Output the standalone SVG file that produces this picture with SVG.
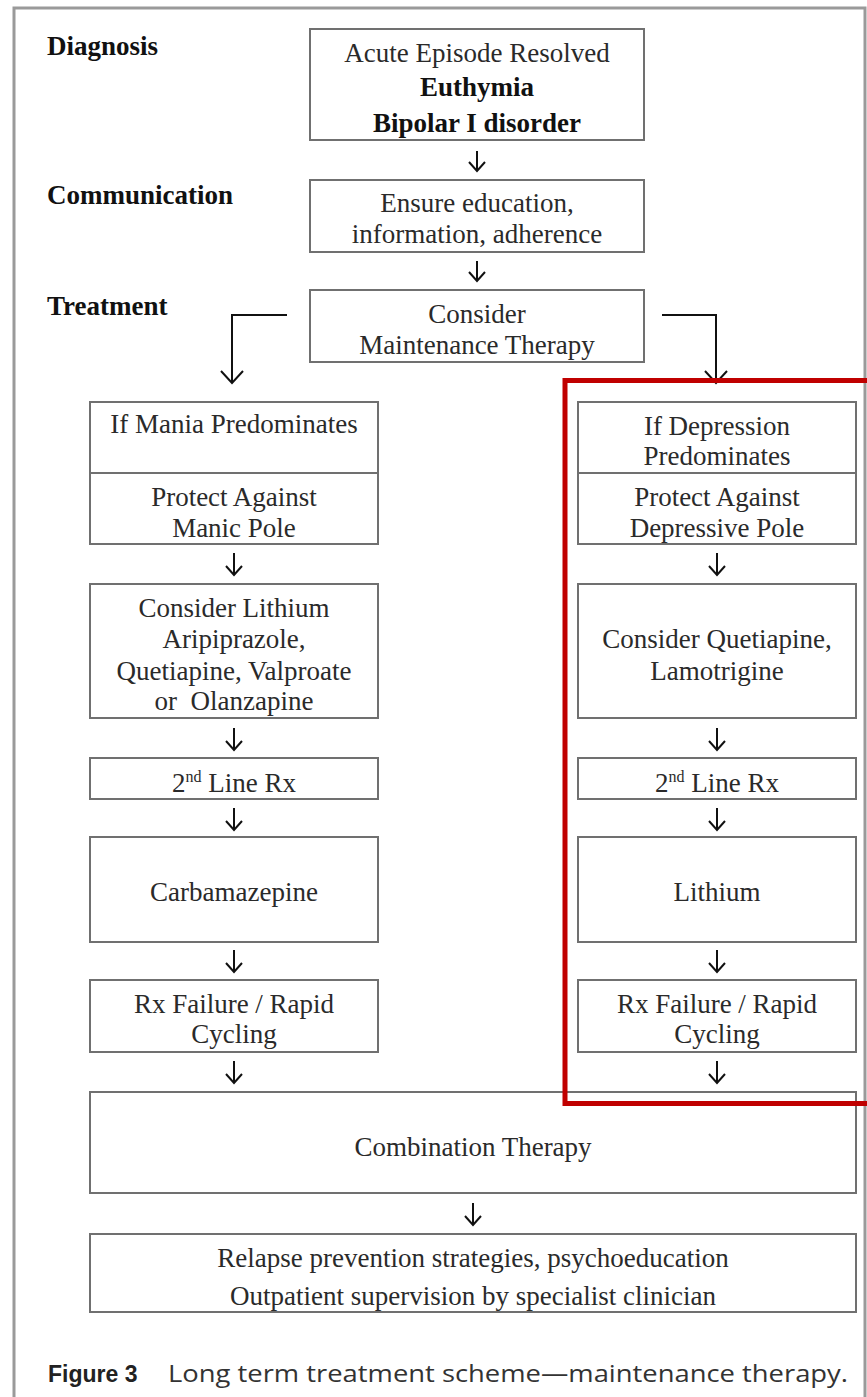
<svg xmlns="http://www.w3.org/2000/svg" width="867" height="1397" viewBox="0 0 867 1397">
<style>
.frame{fill:none;stroke:#9a9a9a;stroke-width:3}
.box{fill:#fff;stroke:#707070;stroke-width:2}
.t{font-family:"Liberation Serif","Times New Roman",serif;font-size:27px;fill:#2a2a2a;text-anchor:middle}
.b{font-weight:bold;fill:#111}
.lab{font-family:"Liberation Serif","Times New Roman",serif;font-size:27px;font-weight:bold;fill:#111}
.sup{font-size:16px}
.conn{fill:none;stroke:#111;stroke-width:2}
.red{fill:none;stroke:#c00000;stroke-width:5}
.cap{font-family:"Open Sans","Liberation Sans",sans-serif;font-size:23px;fill:#333}
</style>
<defs>
<marker id="ah" viewBox="-12 -10 14 20" markerWidth="14" markerHeight="20" refX="0" refY="0" orient="auto" markerUnits="userSpaceOnUse">
<path d="M-9,-8 L0,0 L-9,8" fill="none" stroke="#111" stroke-width="2"/>
</marker>
<marker id="ahL" viewBox="-15 -13 17 26" markerWidth="17" markerHeight="26" refX="0" refY="0" orient="auto" markerUnits="userSpaceOnUse">
<path d="M-12,-11 L0,0 L-12,11" fill="none" stroke="#111" stroke-width="2"/>
</marker>
</defs>
<rect width="867" height="1397" fill="#fff"/>
<path class="frame" d="M14,1400 V8 H865 V1400"/>

<g id="labels">
<text class="lab" x="47" y="55">Diagnosis</text>
<text class="lab" x="47" y="204">Communication</text>
<text class="lab" x="47" y="315">Treatment</text>
</g>

<g id="n-diagnosis">
<rect class="box" x="310" y="29" width="334" height="111"/>
<text class="t" x="477" y="62">Acute Episode Resolved</text>
<text class="t b" x="477" y="96">Euthymia</text>
<text class="t b" x="477" y="132">Bipolar I disorder</text>
</g>
<g id="n-communication">
<rect class="box" x="310" y="180" width="334" height="72"/>
<text class="t" x="477" y="212">Ensure education,</text>
<text class="t" x="477" y="243">information, adherence</text>
</g>
<g id="n-maintenance">
<rect class="box" x="310" y="290" width="334" height="72"/>
<text class="t" x="477" y="323">Consider</text>
<text class="t" x="477" y="354">Maintenance Therapy</text>
</g>

<g id="n-mania">
<rect class="box" x="90" y="402" width="288" height="71"/>
<text class="t" x="234" y="433">If Mania Predominates</text>
</g>
<g id="n-manic-pole">
<rect class="box" x="90" y="473" width="288" height="71"/>
<text class="t" x="234" y="506">Protect Against</text>
<text class="t" x="234" y="537">Manic Pole</text>
</g>
<g id="n-lithium-options">
<rect class="box" x="90" y="584" width="288" height="134"/>
<text class="t" x="234" y="617">Consider Lithium</text>
<text class="t" x="234" y="648">Aripiprazole,</text>
<text class="t" x="234" y="680">Quetiapine, Valproate</text>
<text class="t" x="234" y="710" xml:space="preserve">or  Olanzapine</text>
</g>
<g id="n-2nd-left">
<rect class="box" x="90" y="758" width="288" height="41"/>
<text class="t" x="234" y="792">2<tspan class="sup" dy="-10">nd</tspan><tspan dy="10"> Line Rx</tspan></text>
</g>
<g id="n-carbamazepine">
<rect class="box" x="90" y="837" width="288" height="105"/>
<text class="t" x="234" y="901">Carbamazepine</text>
</g>
<g id="n-fail-left">
<rect class="box" x="90" y="980" width="288" height="72"/>
<text class="t" x="234" y="1013">Rx Failure / Rapid</text>
<text class="t" x="234" y="1043">Cycling</text>
</g>

<g id="n-depression">
<rect class="box" x="578" y="402" width="278" height="71"/>
<text class="t" x="717" y="435">If Depression</text>
<text class="t" x="717" y="465">Predominates</text>
</g>
<g id="n-depressive-pole">
<rect class="box" x="578" y="473" width="278" height="71"/>
<text class="t" x="717" y="506">Protect Against</text>
<text class="t" x="717" y="537">Depressive Pole</text>
</g>
<g id="n-quetiapine">
<rect class="box" x="578" y="584" width="278" height="134"/>
<text class="t" x="717" y="648">Consider Quetiapine,</text>
<text class="t" x="717" y="680">Lamotrigine</text>
</g>
<g id="n-2nd-right">
<rect class="box" x="578" y="758" width="278" height="41"/>
<text class="t" x="717" y="792">2<tspan class="sup" dy="-10">nd</tspan><tspan dy="10"> Line Rx</tspan></text>
</g>
<g id="n-lithium">
<rect class="box" x="578" y="837" width="278" height="105"/>
<text class="t" x="717" y="901">Lithium</text>
</g>
<g id="n-fail-right">
<rect class="box" x="578" y="980" width="278" height="72"/>
<text class="t" x="717" y="1013">Rx Failure / Rapid</text>
<text class="t" x="717" y="1043">Cycling</text>
</g>

<g id="n-combination">
<rect class="box" x="90" y="1092" width="766" height="101"/>
<text class="t" x="473" y="1156">Combination Therapy</text>
</g>
<g id="n-relapse">
<rect class="box" x="90" y="1234" width="766" height="78"/>
<text class="t" x="473" y="1267">Relapse prevention strategies, psychoeducation</text>
<text class="t" x="473" y="1305">Outpatient supervision by specialist clinician</text>
</g>

<g id="connectors">
<line class="conn" x1="477" y1="151" x2="477" y2="171" marker-end="url(#ah)"/>
<line class="conn" x1="477" y1="261" x2="477" y2="281" marker-end="url(#ah)"/>
<path class="conn" d="M287,315 H232 V383" marker-end="url(#ahL)"/>
<path class="conn" d="M662,315 H716 V383" marker-end="url(#ahL)"/>
<line class="conn" x1="234" y1="553" x2="234" y2="575" marker-end="url(#ah)"/>
<line class="conn" x1="234" y1="728" x2="234" y2="750" marker-end="url(#ah)"/>
<line class="conn" x1="234" y1="808" x2="234" y2="830" marker-end="url(#ah)"/>
<line class="conn" x1="234" y1="950" x2="234" y2="972" marker-end="url(#ah)"/>
<line class="conn" x1="234" y1="1061" x2="234" y2="1083" marker-end="url(#ah)"/>
<line class="conn" x1="717" y1="553" x2="717" y2="575" marker-end="url(#ah)"/>
<line class="conn" x1="717" y1="728" x2="717" y2="750" marker-end="url(#ah)"/>
<line class="conn" x1="717" y1="808" x2="717" y2="830" marker-end="url(#ah)"/>
<line class="conn" x1="717" y1="950" x2="717" y2="972" marker-end="url(#ah)"/>
<line class="conn" x1="717" y1="1061" x2="717" y2="1083" marker-end="url(#ah)"/>
<line class="conn" x1="473" y1="1203" x2="473" y2="1225" marker-end="url(#ah)"/>
</g>

<g id="highlight">
<rect class="red" x="565" y="380.5" width="320" height="723"/>
</g>

<g id="caption">
<text class="cap" x="48" y="1382"><tspan font-family="Liberation Sans, Arial, sans-serif" font-weight="bold" fill="#222">Figure 3</tspan></text>
<text class="cap" x="168" y="1382" textLength="680" lengthAdjust="spacingAndGlyphs">Long term treatment scheme—maintenance therapy.</text>
</g>
</svg>
